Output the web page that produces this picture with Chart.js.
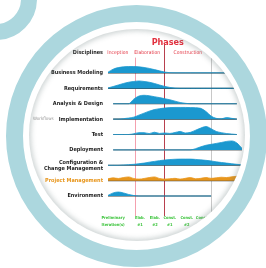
<!DOCTYPE html>
<html>
<head>
<meta charset="utf-8">
<script src="https://cdn.jsdelivr.net/npm/chart.js@4/dist/chart.umd.min.js"></script>
<style>
  html,body{margin:0;padding:0;background:#fff;}
  body{width:266px;height:268px;position:relative;overflow:hidden;}
  .ring{position:absolute;box-sizing:border-box;border-radius:50%;border:17px solid #acd7de;}
  #bigRing{left:6px;top:5px;width:261px;height:262px;}
  #smallRing{left:-45px;top:-42px;width:82px;height:82px;border-width:16px;}
  #pic{position:absolute;left:29px;top:29px;width:216px;height:212px;border-radius:50%;background:#fff;}
  #shade{position:absolute;left:29px;top:29px;width:216px;height:212px;border-radius:50%;
         box-shadow:inset 0 0 5px 2px rgba(95,115,115,0.3);pointer-events:none;}
  #c{position:absolute;left:0;top:0;clip-path:ellipse(108px 106px at 137px 135px);}
</style>
</head>
<body>
<div class="ring" id="bigRing"></div>
<div class="ring" id="smallRing"></div>
<div id="pic"></div>
<canvas id="c" width="266" height="268"></canvas>
<div id="shade"></div>
<script>
const N = null;
// Time steps across the project
const steps = Array.from({length: 27}, (_, i) => i);
// Disciplines (rows, top to bottom)
const disciplines = ["Business Modeling","Requirements","Analysis & Design","Implementation","Test","Deployment",["Configuration &","Change Management"],"Project Management","Environment"];
// Relative effort per time step
const bizModeling   = [0.05,0.25,0.35,0.4,0.42,0.42,0.4,0.36,0.3,0.22,0.14,0.06,0.02,0.01,0.01,0.01,0.01,0.01,0.01,0.01,0.01,0.01,0.01,0.01,0,N,N];
const requirements  = [0.03,0.12,0.22,0.32,0.4,0.45,0.48,0.45,0.4,0.32,0.22,0.13,0.06,0.02,0.01,0.01,0.01,0.01,0.01,0.01,0.01,0.01,0.01,0.01,0.01,0,N];
const analysis      = [N,0,0,0,0,0.3,0.5,0.55,0.52,0.46,0.4,0.33,0.26,0.17,0.08,0.03,0,0,0,0,0,0,0,0,0,0,N];
const implementation= [N,0,0,0.03,0.07,0.13,0.26,0.39,0.52,0.62,0.68,0.72,0.75,0.76,0.76,0.76,0.75,0.74,0.7,0.5,0.2,0.05,0.02,0.1,0.05,0,N];
const test          = [N,0,0,0,0,0.05,0.12,0.12,0.06,0.15,0.07,0.1,0.07,0.13,0.2,0.1,0.14,0.28,0.42,0.52,0.38,0.2,0.12,0.06,0.03,0,N];
const deployment    = [N,0,0,0,0,0,0,0,0,0,0,0,0,0,0,0,0,0.08,0.2,0.3,0.36,0.42,0.48,0.55,0.58,0.45,0.1];
const configMgmt    = [0,0,0,0.02,0.04,0.06,0.1,0.14,0.2,0.25,0.3,0.34,0.37,0.39,0.4,0.4,0.4,0.38,0.35,0.32,0.28,0.22,0.18,0.14,0.1,0.06,0.03];
const projectMgmt   = [0.12,0.18,0.14,0.2,0.24,0.14,0.1,0.14,0.2,0.24,0.14,0.1,0.12,0.15,0.1,0.15,0.2,0.12,0.15,0.2,0.15,0.18,0.22,0.2,0.25,0.28,0.3];
const environment   = [0.04,0.2,0.26,0.2,0.1,0.03,0,0,0,0,0,0,0,0,0,0,0,0,0,0,0,N,N,N,N,N,N];
const effort = [bizModeling,requirements,analysis,implementation,test,deployment,configMgmt,projectMgmt,environment];

// Phases
const phaseNames   = ["Inception","Elaboration","Construction","Transition"];
const phaseCenters = [1.9, 7.6, 15.5, 23.5];
const phaseBounds  = [5.2, 10.9, 20.0];
// Iterations
const iterTop    = ["Preliminary","Elab.","Elab.","Const.","Const.","Const.","Tran.","Tran."];
const iterBottom = ["Iteration(s)","#1","#2","#1","#2","#N","#1","#2"];
const iterPos    = [1.0, 6.2, 9.1, 12.0, 15.3, 18.3, 21.5, 24.5];

const BLUE = '#1b98cf', ORANGE = '#e8961c', LABEL = '#1e1e1e';
const FONT = "'Liberation Sans Narrow','DejaVu Sans Condensed','Liberation Sans',Arial,sans-serif";

const datasets = effort.map((arr, row) => ({
  label: Array.isArray(disciplines[row]) ? disciplines[row].join(' ') : disciplines[row],
  data: arr.map(h => h === null ? null : row - h),
  borderColor: row === 7 ? ORANGE : BLUE,
  backgroundColor: row === 7 ? ORANGE : BLUE,
  borderWidth: 0.8,
  pointRadius: 0,
  fill: {value: row},
  cubicInterpolationMode: 'monotone',
  spanGaps: false
}));

function spanOf(arr) {
  let first = -1, last = -1;
  arr.forEach((v, i) => { if (v !== null) { if (first < 0) first = i; last = i; } });
  return [first, last];
}

const decor = {
  id: 'decor',
  beforeDatasetsDraw(chart) {
    const {ctx, scales:{x, y}} = chart;
    ctx.save();
    const cols = ['rgba(240,120,140,0.7)','#b8404e','#c8c8c8'];
    phaseBounds.forEach((b, k) => {
      ctx.strokeStyle = cols[k];
      ctx.lineWidth = 1;
      ctx.beginPath();
      const px = Math.round(x.getPixelForValue(b)) + 0.5;
      ctx.moveTo(px, y.getPixelForValue(k === 1 ? -1.9 : -1.0));
      ctx.lineTo(px, y.getPixelForValue(9.3));
      ctx.stroke();
    });
    effort.forEach((arr, row) => {
      const [first, last] = spanOf(arr);
      ctx.strokeStyle = (row === 4 || row === 5) ? '#6a6a6a' : '#3c3c3c';
      ctx.lineWidth = 1.2;
      ctx.beginPath();
      const py = y.getPixelForValue(row);
      ctx.moveTo(x.getPixelForValue(first), py);
      ctx.lineTo(x.getPixelForValue(last), py);
      ctx.stroke();
    });
    ctx.restore();
  },
  afterDraw(chart) {
    const {ctx, chartArea, scales:{x, y}} = chart;
    ctx.save();
    ctx.textBaseline = 'middle';
    ctx.fillStyle = '#e2313f';
    ctx.font = `bold 9px ${FONT}`;
    ctx.textAlign = 'center';
    ctx.fillText('Phases', x.getPixelForValue(11.6), y.getPixelForValue(-2.0));
    ctx.font = `5px ${FONT}`;
    phaseNames.forEach((n, i) => ctx.fillText(n, x.getPixelForValue(phaseCenters[i]), y.getPixelForValue(-1.35)));
    ctx.fillStyle = LABEL;
    ctx.font = `bold 5.5px ${FONT}`;
    ctx.textAlign = 'right';
    ctx.fillText('Disciplines', chartArea.left - 5, y.getPixelForValue(-1.3));
    ctx.fillStyle = '#9a9a9a';
    ctx.font = `4.5px ${FONT}`;
    ctx.textAlign = 'left';
    ctx.fillText('Workflows', 33, y.getPixelForValue(3.0));
    ctx.fillStyle = '#3cc43c';
    ctx.font = `bold 4px ${FONT}`;
    ctx.textAlign = 'center';
    iterPos.forEach((p, i) => {
      ctx.fillText(iterTop[i], x.getPixelForValue(p), y.getPixelForValue(9.43));
      ctx.fillText(iterBottom[i], x.getPixelForValue(p), y.getPixelForValue(9.89));
    });
    ctx.restore();
  }
};

new Chart(document.getElementById('c'), {
  type: 'line',
  data: {labels: steps, datasets},
  options: {
    responsive: false,
    devicePixelRatio: 1,
    animation: false,
    layout: {padding: {left: 0, right: 24, top: 42.25, bottom: 41.25}},
    plugins: {legend: {display: false}, tooltip: {enabled: false}},
    scales: {
      x: {type: 'linear', min: 0, max: 26, display: false},
      y: {
        type: 'linear', reverse: true, min: -2, max: 10,
        grid: {display: false, drawTicks: false},
        border: {display: false},
        afterBuildTicks: s => { s.ticks = disciplines.map((d, i) => ({value: i})); },
        afterFit: s => { s.width = 108; },
        ticks: {
          padding: 5,
          autoSkip: false,
          font: {family: FONT, size: 5.5, weight: 'bold', lineHeight: 1.1},
          color: c => c.index === 7 ? ORANGE : LABEL,
          callback: (v) => disciplines[v]
        }
      }
    }
  },
  plugins: [decor]
});
</script>
</body>
</html>
